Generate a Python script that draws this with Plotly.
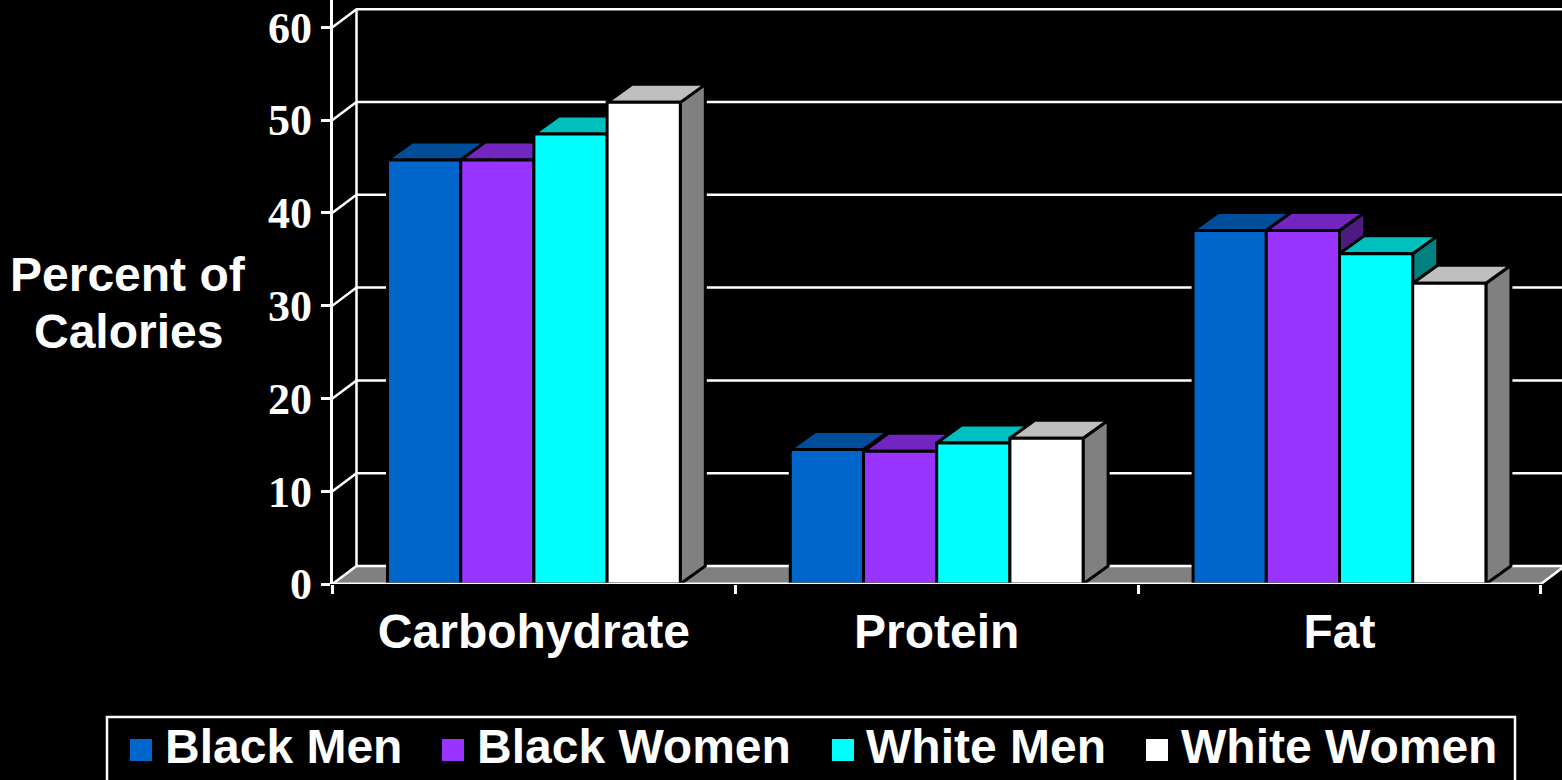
import plotly.graph_objects as go

W, H = 1562, 780

nutrients = ["Carbohydrate", "Protein", "Fat"]
series_names = ["Black Men", "Black Women", "White Men", "White Women"]
black_men = [45.7, 14.5, 38.1]
black_women = [45.7, 14.3, 38.1]
white_men = [48.5, 15.2, 35.6]
white_women = [51.9, 15.7, 32.4]
y_ticks = [0, 10, 20, 30, 40, 50, 60]

front_colors = ["#0066CC", "#9933FF", "#00FFFF", "#FFFFFF"]
top_colors = ["#004D99", "#7326BF", "#00BFBF", "#BFBFBF"]
side_colors = ["#003366", "#4D1A80", "#008080", "#808080"]

series_values = [black_men, black_women, white_men, white_women]

# fake 3D depth, in axis units (one category = 402.8px, ten percent = 92.8px)
wall_dx, wall_dy = 24 / 402.8, 18 / 9.28
bar_dx, bar_dy = 25 / 402.8, 18 / 9.28
group_width = 0.727
bar_w = group_width / 4

x_range = [-0.5, -0.5 + (W - 332.5) / 402.8]
y_range = [0, 584 / 9.28]
white = "#FFFFFF"

fig = go.Figure()

# floor
fig.add_trace(go.Scatter(
    x=[-0.5, -0.5 + wall_dx, 2.5 + wall_dx, 2.5, -0.5],
    y=[0, wall_dy, wall_dy, 0, 0],
    mode="lines", fill="toself", fillcolor="#808080",
    line=dict(color=white, width=2.5), hoverinfo="skip", showlegend=False,
))

# back wall gridlines + the diagonals on the left wall
for t in y_ticks[1:]:
    fig.add_trace(go.Scatter(
        x=[-0.5, -0.5 + wall_dx, x_range[1]],
        y=[t, t + wall_dy, t + wall_dy],
        mode="lines", line=dict(color=white, width=2.5),
        hoverinfo="skip", showlegend=False, cliponaxis=False,
    ))
fig.add_trace(go.Scatter(
    x=[-0.5 + wall_dx, -0.5 + wall_dx],
    y=[wall_dy, y_ticks[-1] + wall_dy],
    mode="lines", line=dict(color=white, width=2.5),
    hoverinfo="skip", showlegend=False,
))

# top and side faces, series by series so that later bars sit on earlier sides
for i, values in enumerate(series_values):
    top_x, top_y, side_x, side_y = [], [], [], []
    for g, v in enumerate(values):
        left = g - group_width / 2 + i * bar_w
        right = left + bar_w
        top_x += [left, left + bar_dx, right + bar_dx, right, left, None]
        top_y += [v, v + bar_dy, v + bar_dy, v, v, None]
        side_x += [right, right + bar_dx, right + bar_dx, right, right, None]
        side_y += [v, v + bar_dy, bar_dy, 0, v, None]
    fig.add_trace(go.Scatter(
        x=side_x, y=side_y, mode="lines", fill="toself",
        fillcolor=side_colors[i], line=dict(color="black", width=3),
        hoverinfo="skip", showlegend=False,
    ))
    fig.add_trace(go.Scatter(
        x=top_x, y=top_y, mode="lines", fill="toself",
        fillcolor=top_colors[i], line=dict(color="black", width=3),
        hoverinfo="skip", showlegend=False,
    ))

# front faces on the overlaying category axis
for i, values in enumerate(series_values):
    fig.add_trace(go.Bar(
        x=nutrients, y=values, name=series_names[i], xaxis="x2", yaxis="y",
        marker=dict(color=front_colors[i], line=dict(color="black", width=3)),
    ))

fig.update_layout(
    width=W, height=H,
    margin=dict(l=0, r=0, t=0, b=0, autoexpand=False),
    paper_bgcolor="black", plot_bgcolor="rgba(0,0,0,0)",
    barmode="group", bargap=1 - group_width, bargroupgap=0,
    showlegend=False,
    xaxis=dict(domain=[332.5 / W, 1], range=x_range, visible=False),
    xaxis2=dict(
        domain=[332.5 / W, 1], range=x_range, overlaying="x", anchor="y",
        type="category", categoryorder="array", categoryarray=nutrients,
        tickson="boundaries", ticks="outside", ticklen=9, tickwidth=2.5,
        tickcolor=white, showgrid=False, showline=False, zeroline=False,
        automargin=False, ticklabelstandoff=15,
        tickfont=dict(family="Liberation Sans", size=48, color=white, weight="bold"),
    ),
    yaxis=dict(
        domain=[(H - 584) / H, 1], range=y_range, tickvals=y_ticks,
        ticks="outside", ticklen=9, tickwidth=2.5, tickcolor=white,
        showline=True, linecolor=white, linewidth=2.5,
        showgrid=False, zeroline=False, automargin=False,
        tickfont=dict(family="Liberation Serif", size=44, color=white, weight="bold"),
    ),
)

# x axis line stops at the last tick and sits above the bars
fig.add_shape(type="line", xref="x", yref="y", x0=-0.5, x1=2.5, y0=0, y1=0,
              line=dict(color=white, width=2.5), layer="above")

text_font = dict(family="Liberation Sans", size=48, color=white, weight="bold")


def px_x(p):
    return p / W


def px_y(p):
    return 1 - p / H


# y axis title, two lines
for label, py in [("Percent of", 274), ("Calories", 331)]:
    fig.add_annotation(text=label, xref="paper", yref="paper", x=px_x(128), y=px_y(py),
                       xanchor="center", yanchor="middle", showarrow=False, font=text_font)

# legend box
fig.add_shape(type="rect", xref="paper", yref="paper",
              x0=px_x(107), x1=px_x(1515), y0=px_y(717), y1=px_y(790),
              line=dict(color=white, width=2.5), fillcolor="black")
swatch_left = [130, 442, 832, 1146]
label_left = [163, 475, 864, 1179]
for i, name in enumerate(series_names):
    fig.add_shape(type="rect", xref="paper", yref="paper",
                  x0=px_x(swatch_left[i]), x1=px_x(swatch_left[i] + 22),
                  y0=px_y(761), y1=px_y(739), line=dict(width=0),
                  fillcolor=front_colors[i])
    fig.add_annotation(text=name, xref="paper", yref="paper", x=px_x(label_left[i]), y=px_y(746),
                       xanchor="left", yanchor="middle", showarrow=False, font=text_font)

fig.write_html("out.html", config=dict(displayModeBar=False),
               post_script="document.body.style.margin='0';")
